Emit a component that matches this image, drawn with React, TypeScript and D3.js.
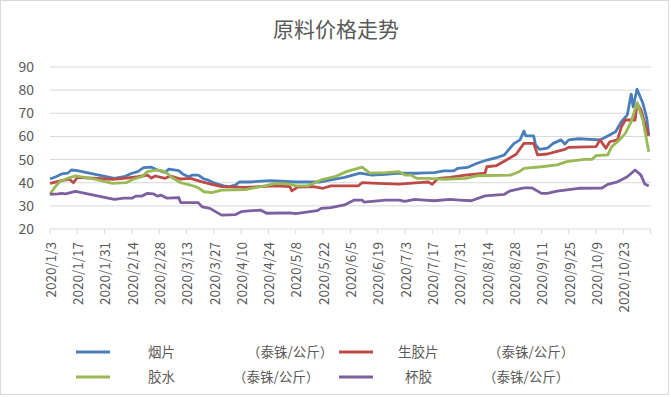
import React from "react";
import * as d3 from "d3";

// ---- data (prices, THB/kg) ----
const title = "原料价格走势";
const yTicks = [20, 30, 40, 50, 60, 70, 80, 90];
const xTickLabels = [
  "2020/1/3", "2020/1/17", "2020/1/31", "2020/2/14", "2020/2/28", "2020/3/13",
  "2020/3/27", "2020/4/10", "2020/4/24", "2020/5/8", "2020/5/22", "2020/6/5",
  "2020/6/19", "2020/7/3", "2020/7/17", "2020/7/31", "2020/8/14", "2020/8/28",
  "2020/9/11", "2020/9/25", "2020/10/9", "2020/10/23",
];
const axisStart = "1/3";
const axisEnd = "11/6";

const rssDates = ["1/3","1/6","1/9","1/12","1/14","1/17","2/5","2/10","2/14","2/17","2/20","2/24","2/27","3/2","3/4","3/9","3/11","3/14","3/16","3/19","3/22","3/24","3/27","3/29","4/1","4/4","4/7","4/9","4/14","4/25","5/8","5/13","5/20","5/26","6/2","6/10","6/16","6/23","6/30","7/10","7/18","7/23","7/28","7/30","8/4","8/9","8/14","8/19","8/23","8/25","8/28","8/31","9/2","9/3","9/7","9/8","9/10","9/14","9/17","9/21","9/23","9/25","9/30","10/11","10/15","10/19","10/22","10/25","10/27","10/28","10/30","11/2","11/4","11/5"];
const rssPrices = [41.6,42.6,43.8,44.1,45.5,45.2,41.9,42.6,44.1,44.8,46.5,46.7,45.5,44.5,45.9,45.2,43.8,42.6,43.3,43.3,41.6,41.2,40.0,39.4,38.6,38.3,39.0,40.3,40.3,40.9,40.3,40.4,40.3,41.2,42.3,44.1,43.3,43.6,44.1,44.1,44.4,45.1,45.1,46.2,46.6,48.4,49.8,50.8,52.0,54.1,57.0,58.5,62.3,60.2,60.2,56.3,54.4,54.9,57.0,58.5,56.7,58.5,59.0,58.5,60.2,62.0,66.4,69.3,78.3,72.8,80.4,74.3,67.8,60.5];

const sheetDates = ["1/3","1/9","1/13","1/15","1/17","2/4","2/10","2/17","2/22","2/24","2/26","3/2","3/5","3/10","3/15","3/21","3/26","3/31","4/12","4/28","5/5","5/6","5/9","5/17","5/22","5/26","6/9","6/11","6/19","6/30","7/10","7/15","7/17","7/20","7/26","8/3","8/13","8/14","8/19","8/24","8/29","9/2","9/7","9/9","9/14","9/20","9/23","9/25","10/9","10/11","10/14","10/16","10/20","10/22","10/24","10/29","10/30","11/1","11/5"];
const sheetPrices = [39.7,40.9,41.5,40.0,42.3,41.5,41.9,42.6,43.3,42.0,42.9,41.9,42.9,41.6,41.9,40.4,39.3,38.3,38.0,38.6,38.3,36.5,38.1,38.3,37.6,38.6,38.6,40.0,39.7,39.4,40.0,40.3,39.3,41.9,42.3,43.3,44.1,46.9,47.4,49.8,52.3,57.0,57.0,52.0,52.4,53.8,54.4,55.3,55.6,58.5,54.9,57.7,58.5,64.2,67.1,67.1,74.3,71.4,60.2];

const latexDates = ["1/3","1/6","1/8","1/12","1/16","1/26","2/4","2/11","2/15","2/19","2/22","2/27","3/2","3/5","3/10","3/15","3/19","3/22","3/26","3/31","4/12","4/20","4/28","5/5","5/8","5/14","5/21","5/28","6/3","6/11","6/15","6/23","6/30","7/3","7/6","7/9","7/15","7/23","8/3","8/9","8/26","8/30","9/2","9/11","9/19","9/24","10/3","10/7","10/9","10/15","10/17","10/21","10/24","10/27","10/30","11/2","11/5"];
const latexPrices = [35.1,38.6,40.4,41.9,43.0,41.5,39.7,40.0,41.6,42.6,44.8,45.5,44.8,42.6,40.0,39.0,37.8,36.1,35.7,36.8,37.0,38.3,39.7,39.4,38.6,38.6,41.2,42.6,44.8,46.7,44.1,44.4,44.8,43.3,43.3,41.9,41.9,41.5,41.9,43.0,43.3,44.5,46.2,46.9,47.7,49.1,50.1,50.1,51.7,52.0,55.6,58.5,61.3,66.4,74.6,67.1,53.4];

const cupDates = ["1/3","1/7","1/9","1/11","1/16","2/5","2/10","2/14","2/16","2/19","2/22","2/25","2/27","2/29","3/3","3/9","3/10","3/19","3/21","3/25","3/31","4/7","4/10","4/14","4/20","4/23","5/5","5/8","5/19","5/21","5/26","6/2","6/7","6/11","6/12","6/23","6/30","7/3","7/8","7/13","7/18","7/26","7/31","8/6","8/13","8/23","8/26","9/2","9/6","9/11","9/14","9/19","9/30","10/12","10/15","10/20","10/25","10/29","11/1","11/3","11/5"];
const cupPrices = [35.0,35.2,35.4,35.2,36.3,32.8,33.3,33.3,34.2,34.2,35.4,35.2,34.2,34.6,33.3,33.6,31.4,31.4,29.6,28.9,26.0,26.2,27.5,27.8,28.2,26.8,27.0,26.6,27.9,28.9,29.2,30.4,32.5,32.5,31.6,32.5,32.5,31.9,32.8,32.5,32.2,32.8,32.5,32.2,34.3,35.0,36.5,37.8,37.8,35.4,35.4,36.4,37.6,37.7,39.3,40.4,42.6,45.5,43.3,39.4,38.6];

const seriesNames = ["烟片", "生胶片", "胶水", "杯胶"];
const seriesUnit = "（泰铢/公斤）";
const seriesColors = ["#4A7EBB", "#BE4B48", "#98B954", "#7D60A0"];

const parse = (s: string) => {
  const [m, d] = s.split("/").map(Number);
  return new Date(2020, m - 1, d);
};

const series = [
  { dates: rssDates, values: rssPrices },
  { dates: sheetDates, values: sheetPrices },
  { dates: latexDates, values: latexPrices },
  { dates: cupDates, values: cupPrices },
].map((s, i) => ({
  name: seriesNames[i],
  color: seriesColors[i],
  points: s.dates.map((d, j) => ({ date: parse(d), value: s.values[j] })),
}));

export default function App() {
  const W = 671, H = 397;
  const x = d3.scaleTime().domain([parse(axisStart), parse(axisEnd)]).range([50, 650.7]);
  const y = d3.scaleLinear().domain([20, 90]).range([229, 67]);
  const tickDates = d3.timeDay.every(14)!.range(parse(axisStart), d3.timeDay.offset(parse(axisEnd), 1));
  const ticks = d3.range(0, 23).map((i) => d3.timeDay.offset(parse(axisStart), i * 14));
  const line = d3
    .line<{ date: Date; value: number }>()
    .x((d) => x(d.date))
    .y((d) => y(d.value));
  const font = "'Noto Sans CJK SC', 'Noto Sans', sans-serif";
  const textColor = "#595959";

  const legend = [
    { lx: 76, ly: 352, tx: 148, ux: 247 },
    { lx: 339, ly: 352, tx: 398, ux: 488 },
    { lx: 76, ly: 377, tx: 148, ux: 233 },
    { lx: 339, ly: 377, tx: 405, ux: 483 },
  ];

  return (
    <svg
      width={W}
      height={H}
      style={{ position: "absolute", left: 0, top: 0, background: "#fff" }}
      fontFamily={font}
    >
      <rect x={0.5} y={0.5} width={W - 3} height={H - 3} fill="#fff" stroke="#D9D9D9" />
      <text x={336} y={37} textAnchor="middle" fontSize={21} fill={textColor}>
        {title}
      </text>
      {yTicks.map((t) => (
        <g key={t}>
          {t !== 20 && (
            <line x1={50} x2={651} y1={y(t)} y2={y(t)} stroke="#D9D9D9" strokeWidth={1} />
          )}
          <text x={34} y={y(t)} dy="0.36em" textAnchor="end" fontSize={14} fill={textColor}>
            {t}
          </text>
        </g>
      ))}
      <line x1={50} x2={651} y1={y(20)} y2={y(20)} stroke="#D9D9D9" strokeWidth={1} />
      {ticks.map((t, i) => (
        <line key={i} x1={x(t)} x2={x(t)} y1={y(20)} y2={y(20) + 5} stroke="#D9D9D9" />
      ))}
      {xTickLabels.map((lab, i) => {
        const px = x(ticks[i]) + 1;
        const py = 242;
        return (
          <text
            key={lab}
            transform={`translate(${px},${py}) rotate(-90)`}
            textAnchor="end"
            dy="0.35em"
            fontSize={13.5}
            fill={textColor}
          >
            {lab}
          </text>
        );
      })}
      {series.map((s) => (
        <path
          key={s.name}
          d={line(s.points) || ""}
          fill="none"
          stroke={s.color}
          strokeWidth={2.8}
          strokeLinejoin="round"
        />
      ))}
      {series.map((s, i) => {
        const p = legend[i];
        return (
          <g key={s.name}>
            <line x1={p.lx} x2={p.lx + 34} y1={p.ly} y2={p.ly} stroke={s.color} strokeWidth={2.8} />
            <text x={p.tx} y={p.ly} dy="0.36em" fontSize={13.5} fill={textColor}>
              {s.name}
            </text>
            <text x={p.ux} y={p.ly} dy="0.36em" fontSize={13.5} fill={textColor}>
              {seriesUnit}
            </text>
          </g>
        );
      })}
    </svg>
  );
}
